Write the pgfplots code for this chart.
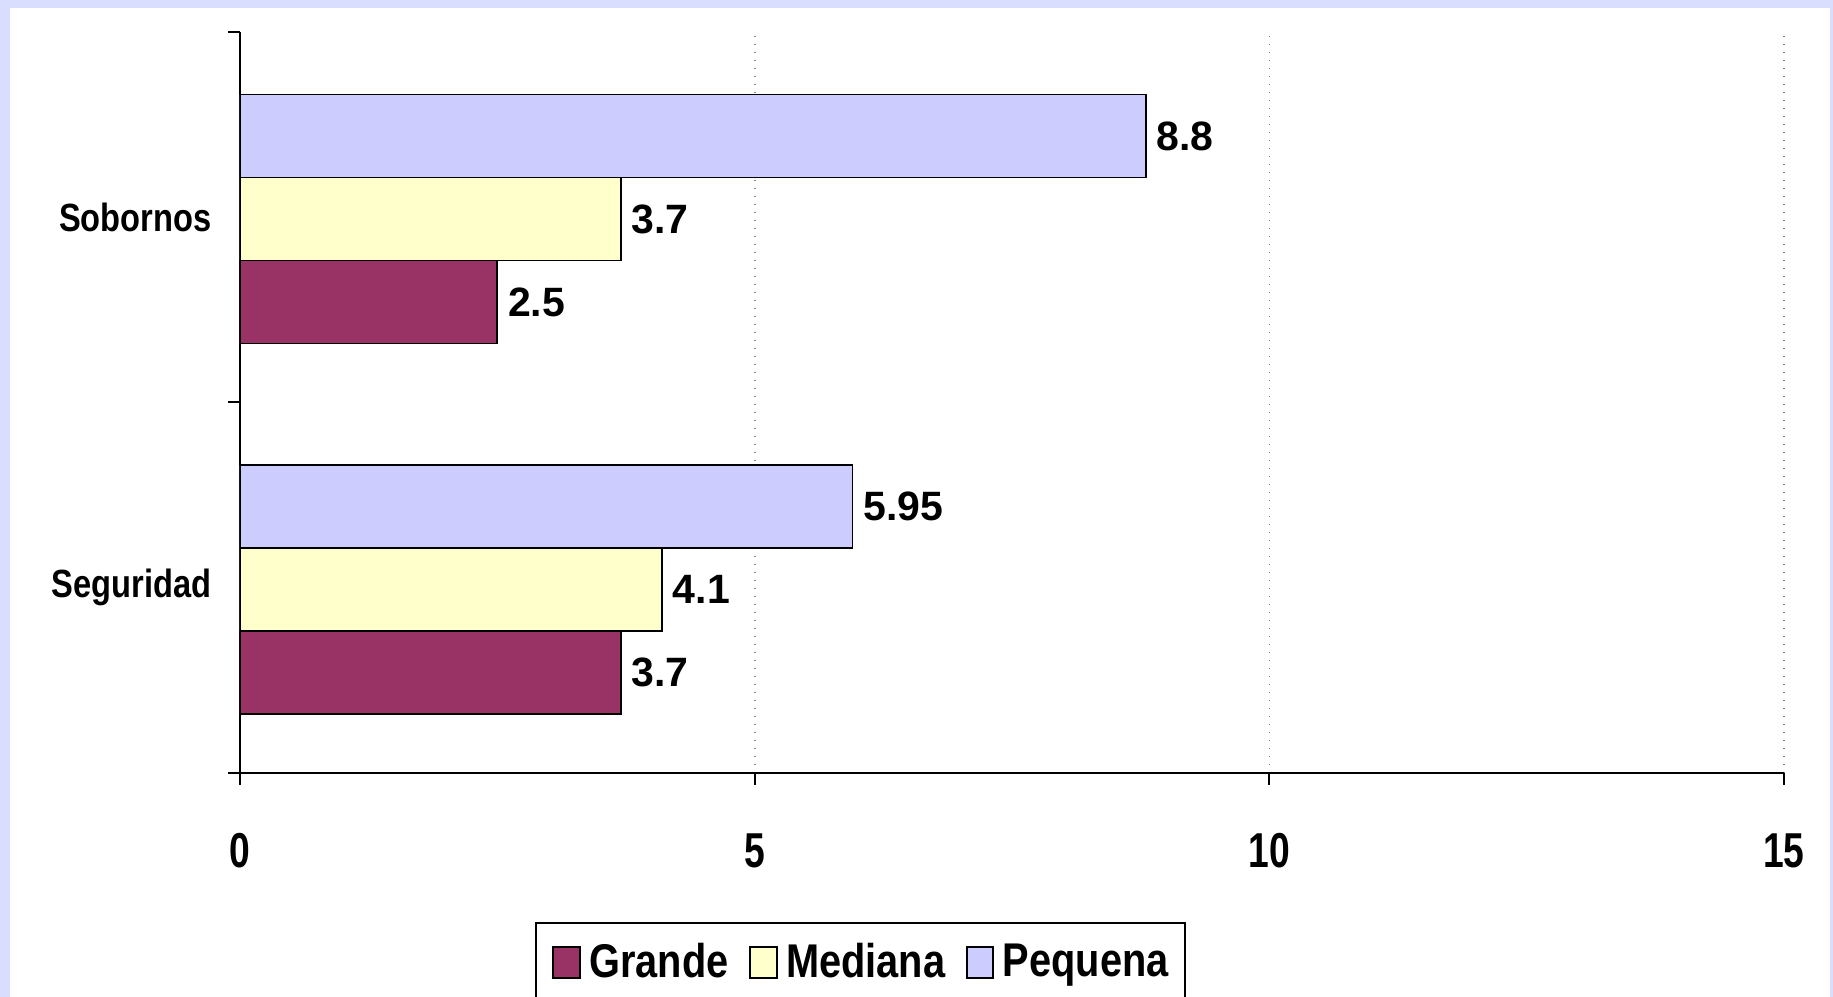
\documentclass[border=0pt]{standalone}
\usepackage{fontspec}
\setmainfont{Liberation Sans}
\newfontfamily\tickfont{Liberation Sans}[FakeStretch=0.76]
\newfontfamily\catfont{Liberation Sans}[FakeStretch=0.83]
\newfontfamily\legfont{Liberation Sans}[FakeStretch=0.84]
\usepackage{pgfplots}
\pgfplotsset{compat=1.18}
\definecolor{grande}{RGB}{153,51,102}
\definecolor{mediana}{RGB}{255,255,204}
\definecolor{pequena}{RGB}{204,204,255}
\definecolor{bgframe}{RGB}{217,222,255}
\pgfplotsset{
  mybar/.style={fill=#1, draw=black, line width=0.5pt,
    legend image code/.code={%
      \path[use as bounding box, draw=none, fill=none] (0pt,-4.65pt) rectangle (6pt,4.65pt);
      \draw[fill=#1, draw=black, line width=0.6pt] (2.2pt,-4.65pt) rectangle (10.1pt,4.65pt);}},
}
\begin{document}
\begin{tikzpicture}
\useasboundingbox (0pt,0pt) rectangle (549.9pt,299.1pt);
\fill[bgframe] (0pt,0pt) rectangle (549.9pt,299.1pt);
\fill[white] (3pt,0pt) rectangle (549pt,296.7pt);
\clip (0pt,0pt) rectangle (549.9pt,299.1pt);
\begin{axis}[
  at={(72pt,67.2pt)}, anchor=south west,
  scale only axis, width=463.2pt, height=222.3pt,
  xbar, bar width=0.224,
  xmin=0, xmax=15, ymin=-0.5, ymax=1.5,
  axis x line*=bottom, axis y line*=left,
  axis line style={line width=0.6pt, black},
  /pgf/number format/assume math mode=true,
  xtick={0,5,10,15},
  ytick={-0.5,0.5,1.5}, yticklabels={,,},
  extra y ticks={0,1}, extra y tick labels={Seguridad,Sobornos},
  extra y tick style={major tick length=0pt,
     yticklabel style={font=\catfont\bfseries\fontsize{11.8}{13}\selectfont, xshift=-5pt}},
  tick align=outside, major tick length=3.6pt,
  tick style={black, line width=0.6pt},
  xticklabel style={font=\tickfont\bfseries\fontsize{14.7}{17}\selectfont, yshift=-11pt},
  xmajorgrids, grid style={gray, dotted, line width=0.5pt},
  nodes near coords={\pgfmathprintnumber[fixed,precision=2]{\pgfplotspointmeta}},
  nodes near coords style={font=\bfseries\fontsize{12.3}{14}\selectfont, anchor=west, inner sep=3pt},
  legend columns=3,
  legend style={at={(0.402,-0.201)}, anchor=north, draw=black, line width=0.6pt,
     inner ysep=4pt,
     font=\legfont\bfseries\fontsize{14.2}{16}\selectfont,
     /tikz/every odd column/.append style={column sep=5pt},
     /tikz/every even column/.append style={column sep=2.3pt}},
]
\addplot[xbar, mybar=grande, bar shift=-0.229] coordinates {(3.7,0) (2.5,1)};
\addplot[xbar, mybar=mediana, bar shift=-0.005] coordinates {(4.1,0) (3.7,1)};
\addplot[xbar, mybar=pequena, bar shift=0.219] coordinates {(5.95,0) (8.8,1)};
\legend{Grande,Mediana,Pequena}
\end{axis}
\end{tikzpicture}
\end{document}
